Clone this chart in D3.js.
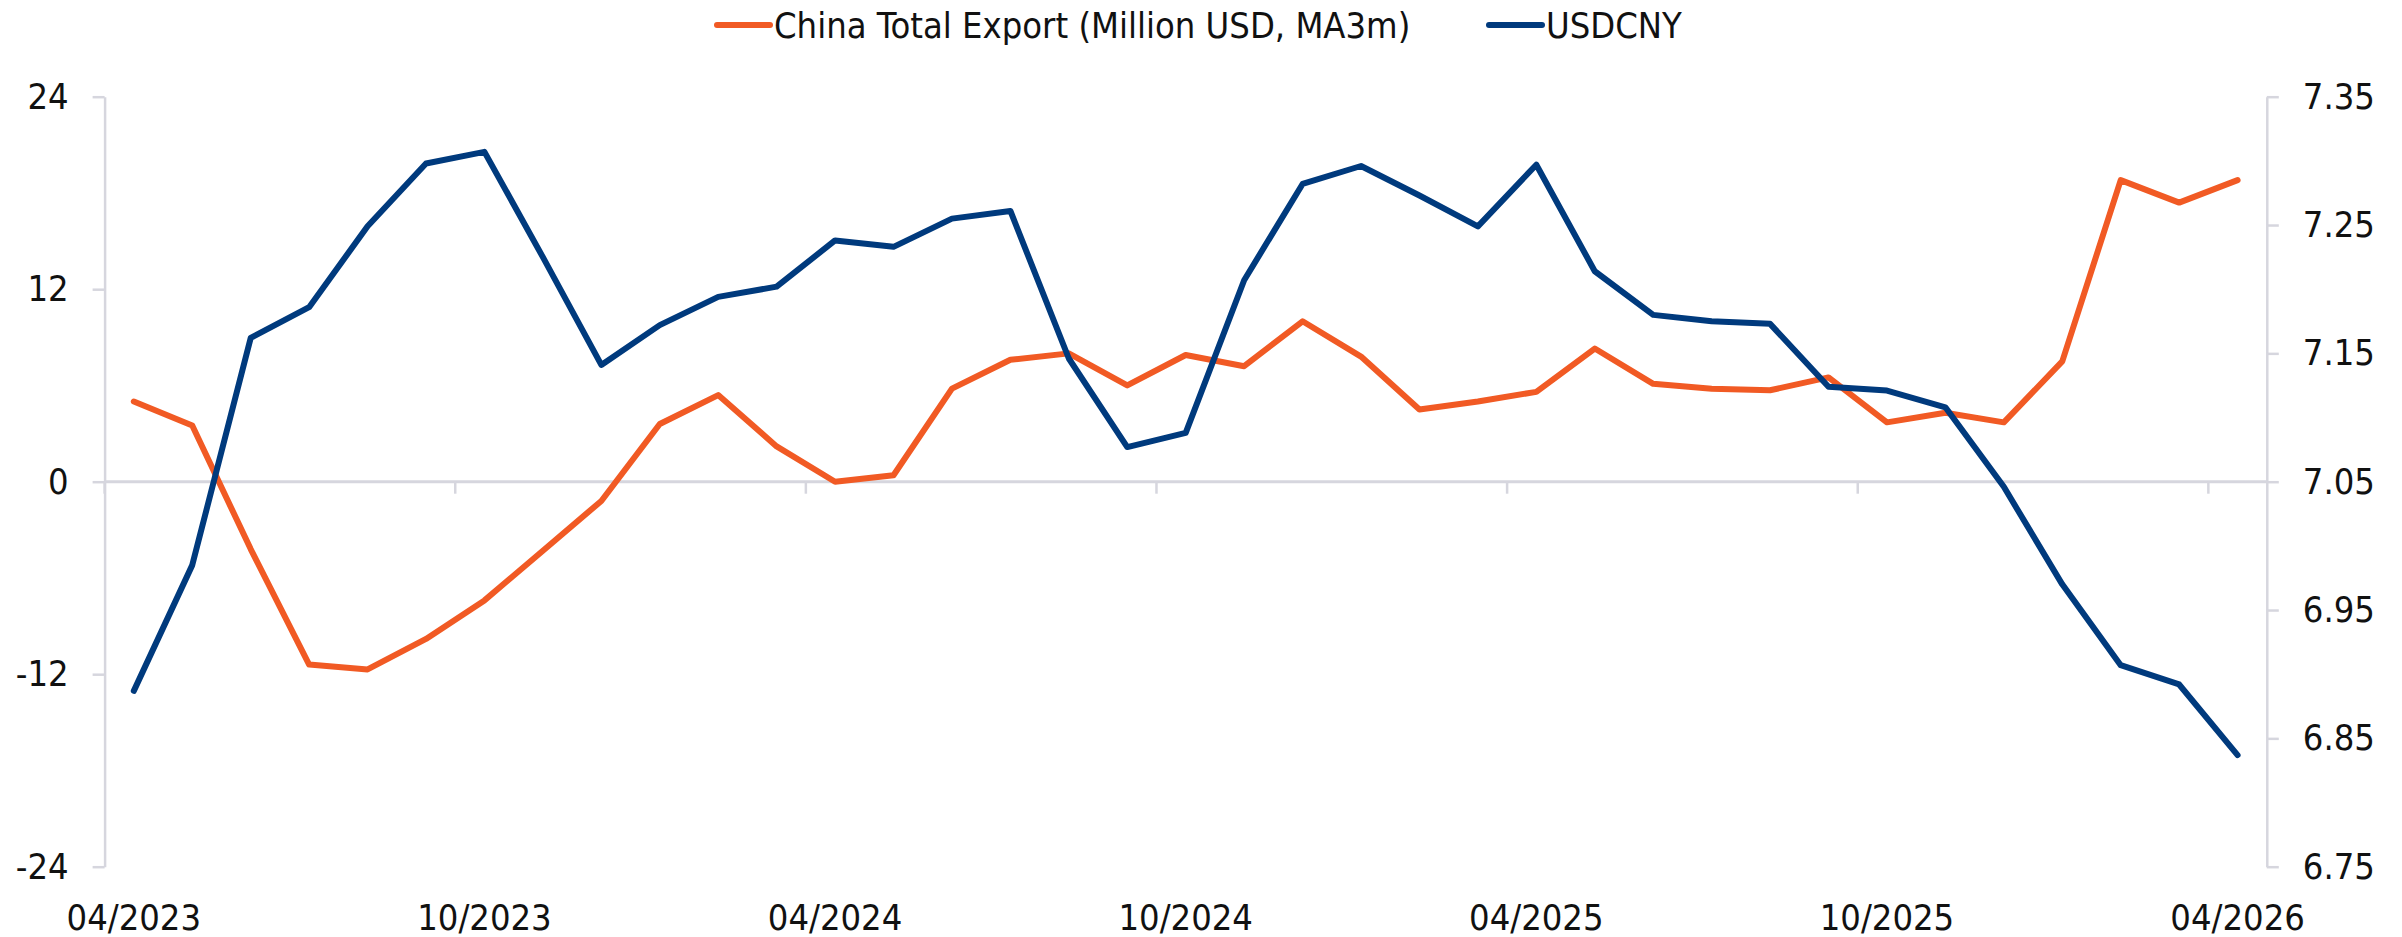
<!DOCTYPE html>
<html>
<head>
<meta charset="utf-8">
<script src="https://cdn.jsdelivr.net/npm/d3@7"></script>
<style>
  html, body { margin: 0; padding: 0; background: #fff; }
  svg text { font-family: "DejaVu Sans Condensed", "DejaVu Sans", sans-serif; font-stretch: condensed; fill: #111; }
</style>
</head>
<body>
<div id="chart"></div>
<script>
"use strict";

// months on the category axis
const months = [
  "04/2023", "05/2023", "06/2023", "07/2023", "08/2023", "09/2023",
  "10/2023", "11/2023", "12/2023", "01/2024", "02/2024", "03/2024",
  "04/2024", "05/2024", "06/2024", "07/2024", "08/2024", "09/2024",
  "10/2024", "11/2024", "12/2024", "01/2025", "02/2025", "03/2025",
  "04/2025", "05/2025", "06/2025", "07/2025", "08/2025", "09/2025",
  "10/2025", "11/2025", "12/2025", "01/2026", "02/2026", "03/2026",
  "04/2026"
];

// China total export (left axis)
const exportValues = [
  5.0, 3.5, -4.2, -11.4, -11.7, -9.8,
  -7.4, -4.3, -1.2, 3.6, 5.4, 2.2,
  0.0, 0.4, 5.8, 7.6, 8.0, 6.0,
  7.9, 7.2, 10.0, 7.8, 4.5, 5.0,
  5.6, 8.3, 6.1, 5.8, 5.7, 6.5,
  3.7, 4.3, 3.7, 7.5, 18.8, 17.4,
  18.8
];

// USDCNY (right axis)
const usdcnyValues = [
  6.887, 6.985, 7.162, 7.186, 7.249, 7.298,
  7.307, 7.225, 7.141, 7.172, 7.194, 7.202,
  7.238, 7.233, 7.255, 7.261, 7.146, 7.077,
  7.088, 7.207, 7.282, 7.296, 7.273, 7.249,
  7.297, 7.214, 7.180, 7.175, 7.173, 7.124,
  7.121, 7.108, 7.046, 6.970, 6.907, 6.892,
  6.837
];

const xTickLabels = ["04/2023", "10/2023", "04/2024", "10/2024", "04/2025", "10/2025", "04/2026"];
const leftTicks = [-24, -12, 0, 12, 24];
const rightTicks = [6.75, 6.85, 6.95, 7.05, 7.15, 7.25, 7.35];

const seriesNames = ["China Total Export (Million USD, MA3m)", "USDCNY"];
const seriesColors = ["#f15a24", "#003a7d"];

const width = 2402, height = 937;
const axisColor = "#d6d6de";
const fontSize = 36;

const plot = { left: 104.6, right: 2266.8, top: 96.7, bottom: 866.7 };

const svg = d3.select("#chart").append("svg")
  .attr("width", width)
  .attr("height", height);

const x = d3.scaleBand().domain(months).range([plot.left, plot.right]).padding(0);
const yL = d3.scaleLinear().domain([-24, 24]).range([plot.bottom, plot.top]);
const yR = d3.scaleLinear().domain([6.75, 7.35]).range([plot.bottom, plot.top]);

// left axis
const gL = svg.append("g")
  .attr("transform", "translate(" + plot.left + ",0)")
  .call(d3.axisLeft(yL).tickValues(leftTicks).tickSize(12).tickPadding(24).tickSizeOuter(0)
    .tickFormat(d3.format("d")));

// right axis
const gR = svg.append("g")
  .attr("transform", "translate(" + plot.right + ",0)")
  .call(d3.axisRight(yR).tickValues(rightTicks).tickSize(12).tickPadding(24).tickSizeOuter(0)
    .tickFormat(d3.format(".2f")));

[gL, gR].forEach(function (g) {
  g.select(".domain").attr("stroke", axisColor).attr("stroke-width", 2.5);
  g.selectAll(".tick line").attr("stroke", axisColor).attr("stroke-width", 2.5);
  g.selectAll(".tick text").attr("font-size", fontSize).style("fill", "#111");
});
gL.selectAll(".tick text").text(function (d) { return d; });

// horizontal category axis at zero
const y0 = yL(0);
svg.append("line")
  .attr("x1", plot.left).attr("x2", plot.right)
  .attr("y1", y0).attr("y2", y0)
  .attr("stroke", axisColor).attr("stroke-width", 3);

const half = x.bandwidth() / 2;
svg.append("g").selectAll("line.xtick")
  .data(xTickLabels)
  .join("line")
  .attr("class", "xtick")
  .attr("x1", function (d) { return x(d); })
  .attr("x2", function (d) { return x(d); })
  .attr("y1", y0).attr("y2", y0 + 12)
  .attr("stroke", axisColor).attr("stroke-width", 2.5);

svg.append("g").selectAll("text.xlabel")
  .data(xTickLabels)
  .join("text")
  .attr("class", "xlabel")
  .attr("x", function (d) { return x(d) + half; })
  .attr("y", 917)
  .attr("dy", "0.35em")
  .attr("text-anchor", "middle")
  .attr("font-size", fontSize)
  .text(function (d) { return d; });

// lines
const lineL = d3.line()
  .x(function (d, i) { return x(months[i]) + half; })
  .y(function (d) { return yL(d); });
const lineR = d3.line()
  .x(function (d, i) { return x(months[i]) + half; })
  .y(function (d) { return yR(d); });

svg.append("path")
  .datum(exportValues)
  .attr("fill", "none")
  .attr("stroke", seriesColors[0])
  .attr("stroke-width", 6)
  .attr("stroke-linejoin", "round")
  .attr("stroke-linecap", "round")
  .attr("d", lineL);

svg.append("path")
  .datum(usdcnyValues)
  .attr("fill", "none")
  .attr("stroke", seriesColors[1])
  .attr("stroke-width", 6)
  .attr("stroke-linejoin", "round")
  .attr("stroke-linecap", "round")
  .attr("d", lineR);

// legend
const legendX = [717, 1489];
const legend = svg.append("g");
seriesNames.forEach(function (name, i) {
  legend.append("line")
    .attr("x1", legendX[i]).attr("x2", legendX[i] + 53)
    .attr("y1", 25).attr("y2", 25)
    .attr("stroke", seriesColors[i])
    .attr("stroke-width", 6)
    .attr("stroke-linecap", "round");
  legend.append("text")
    .attr("x", legendX[i] + 57)
    .attr("y", 25)
    .attr("dy", "0.35em")
    .attr("font-size", fontSize)
    .text(name);
});
</script>
</body>
</html>
